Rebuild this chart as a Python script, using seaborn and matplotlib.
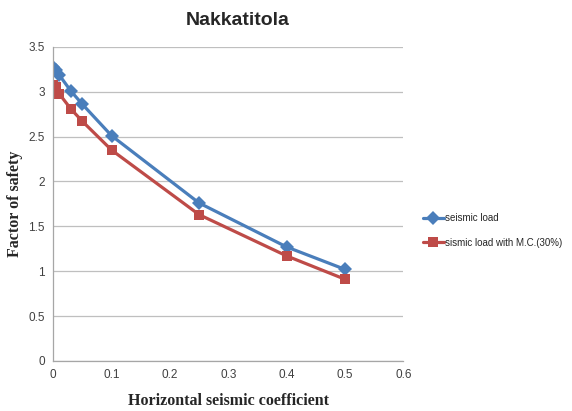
import matplotlib
matplotlib.use("Agg")
import matplotlib.pyplot as plt
import seaborn as sns
import pandas as pd

# data
kh = [0, 0.005, 0.01, 0.03, 0.05, 0.1, 0.25, 0.4, 0.5]
fos_seismic = [3.27, 3.24, 3.19, 3.01, 2.86, 2.51, 1.76, 1.27, 1.02]
fos_seismic_mc = [3.07, 3.05, 2.98, 2.81, 2.67, 2.35, 1.63, 1.17, 0.91]
series_names = ["seismic load", "sismic load with M.C.(30%)"]
x_ticks = [0, 0.1, 0.2, 0.3, 0.4, 0.5, 0.6]
y_ticks = [0, 0.5, 1, 1.5, 2, 2.5, 3, 3.5]

df = pd.DataFrame({
    "kh": kh * 2,
    "fos": fos_seismic + fos_seismic_mc,
    "series": [series_names[0]] * len(kh) + [series_names[1]] * len(kh),
})

sns.set_style("white")
plt.rcParams["font.family"] = ["Liberation Sans", "DejaVu Sans"]

fig = plt.figure(figsize=(5.72, 4.11), dpi=100)
ax = fig.add_axes([0.093, 0.122, 0.612, 0.764])

palette = {series_names[0]: "#4A7EBB", series_names[1]: "#BE4B48"}
markers = {series_names[0]: "D", series_names[1]: "s"}
sns.lineplot(data=df, x="kh", y="fos", hue="series", style="series",
             palette=palette, markers=markers, dashes=False,
             linewidth=2.3, markersize=7.5, markeredgewidth=0, ax=ax)

ax.set_xlim(0, 0.6)
ax.set_ylim(0, 3.5)
ax.set_xticks(x_ticks)
ax.set_xticklabels([f"{t:g}" for t in x_ticks])
ax.set_yticks(y_ticks)
ax.set_yticklabels([f"{t:g}" for t in y_ticks])
ax.tick_params(labelsize=8.5, colors="#404040", length=0, pad=6)
ax.yaxis.grid(True, color="#BFBFBF", linewidth=0.9)
ax.xaxis.grid(False)
for side in ["top", "right"]:
    ax.spines[side].set_visible(False)
for side in ["left", "bottom"]:
    ax.spines[side].set_color("#A6A6A6")
    ax.spines[side].set_linewidth(0.9)

ax.set_xlabel("Horizontal seismic coefficient", family="Liberation Serif",
              fontweight="bold", fontsize=11.5, va="center")
ax.set_ylabel("Factor of safety", family="Liberation Serif",
              fontweight="bold", fontsize=11.5, va="center")
ax.xaxis.set_label_coords(0.5, -0.128)
ax.yaxis.set_label_coords(-0.11, 0.5)
fig.text(0.415, 0.95, "Nakkatitola", ha="center", va="center",
         fontsize=14, fontweight="bold")

ax.legend(loc="center left", bbox_to_anchor=(1.03, 0.415), frameon=False,
          fontsize=7, handlelength=2.2, handletextpad=0.1, labelspacing=1.5)

fig.savefig("out.png", dpi=100)
